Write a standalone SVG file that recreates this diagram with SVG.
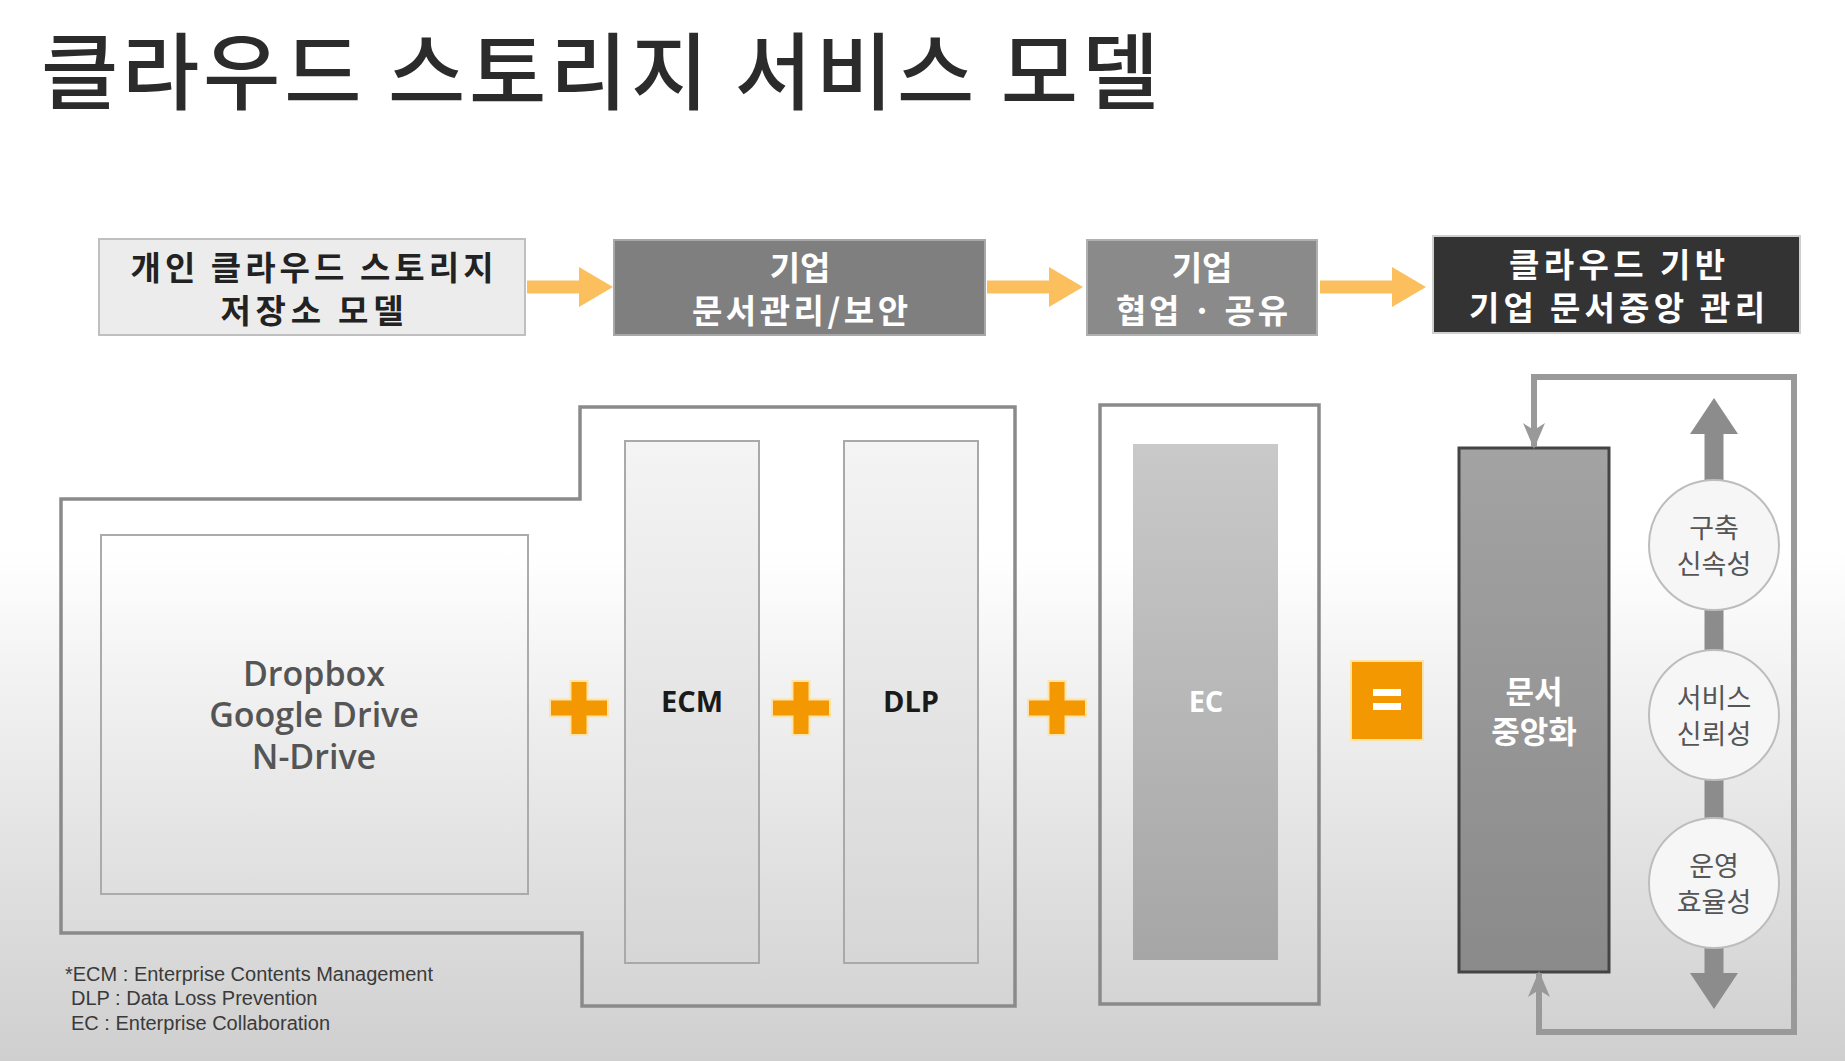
<svg xmlns="http://www.w3.org/2000/svg" width="1845" height="1061" viewBox="0 0 1845 1061">
<defs>
<linearGradient id="bg" x1="0" y1="0" x2="0" y2="1">
<stop offset="0" stop-color="#ffffff"/>
<stop offset="0.52" stop-color="#ffffff"/>
<stop offset="0.66" stop-color="#f0f0f0"/>
<stop offset="1" stop-color="#cfcfcf"/>
</linearGradient>
<linearGradient id="lightCol" x1="0" y1="0" x2="0" y2="1">
<stop offset="0" stop-color="#f4f4f4"/>
<stop offset="1" stop-color="#d6d6d6"/>
</linearGradient>
<linearGradient id="ecCol" x1="0" y1="0" x2="0" y2="1">
<stop offset="0" stop-color="#c9c9c9"/>
<stop offset="1" stop-color="#a6a6a6"/>
</linearGradient>
<linearGradient id="darkCol" x1="0" y1="0" x2="0" y2="1">
<stop offset="0" stop-color="#a3a3a3"/>
<stop offset="1" stop-color="#8a8a8a"/>
</linearGradient>
<marker id="orangeHead" markerUnits="userSpaceOnUse" markerWidth="34" markerHeight="40" refX="0" refY="20" orient="auto">
<path d="M0,0 L34,20 L0,40 Z" fill="#fbbf5e"/>
</marker>
<marker id="loopHead" markerUnits="userSpaceOnUse" markerWidth="26" markerHeight="26" refX="24" refY="13" orient="auto-start-reverse">
<path d="M0,2 L26,13 L0,24 L7,13 Z" fill="#999999"/>
</marker>
<marker id="bigHead" markerUnits="userSpaceOnUse" markerWidth="36" markerHeight="48" refX="1" refY="24" orient="auto-start-reverse">
<path d="M0,0 L36,24 L0,48 Z" fill="#8c8c8c"/>
</marker>
<path id="plus" d="M-8.5,-27 h17 v18.5 h20.5 v17 h-20.5 v18.5 h-17 v-18.5 h-20.5 v-17 h20.5 z"/>
</defs>
<style>
.ko{font-family:"Noto Sans CJK KR","Noto Sans",sans-serif;}
.boxtxt{font-size:33px;font-weight:700;text-anchor:middle;}
.en{font-family:"Open Sans","Liberation Sans",sans-serif;}
.col{stroke:#a9a9a9;stroke-width:2;}
.frame{fill:none;stroke:#8a8a8a;stroke-width:3.5;}
.op{fill:#f39800;stroke:#fde3a8;stroke-width:2;}
.circ{fill:#f6f6f6;stroke:#bdbdbd;stroke-width:2;}
.ctxt{font-size:27px;fill:#555555;text-anchor:middle;}
.note{font-family:"Liberation Sans",Arial,sans-serif;font-size:20px;fill:#3a3a3a;}
</style>
<rect x="0" y="0" width="1845" height="1061" fill="url(#bg)"/>

<g id="title">
<text class="ko" x="41" y="103" font-size="84" font-weight="500" fill="#2b2b2b" textLength="1118" lengthAdjust="spacing">클라우드 스토리지 서비스 모델</text>
</g>

<g id="stage1">
<rect x="99" y="239" width="426" height="96" fill="#ececec" stroke="#bfbfbf" stroke-width="2"/>
<text class="ko boxtxt" fill="#222222"><tspan x="312" y="280" textLength="363" lengthAdjust="spacing">개인 클라우드 스토리지</tspan><tspan x="312" y="323" textLength="183" lengthAdjust="spacing">저장소 모델</tspan></text>
</g>
<g id="stage2">
<rect x="614" y="240" width="371" height="95" fill="#7f7f7f" stroke="#a8a8a8" stroke-width="2"/>
<text class="ko boxtxt" fill="#ffffff"><tspan x="800" y="280">기업</tspan><tspan x="800" y="323" textLength="216" lengthAdjust="spacing">문서관리/보안</tspan></text>
</g>
<g id="stage3">
<rect x="1087" y="240" width="230" height="95" fill="#8a8a8a" stroke="#b0b0b0" stroke-width="2"/>
<text class="ko boxtxt" fill="#ffffff"><tspan x="1202" y="280">기업</tspan><tspan x="1202" y="323" textLength="172" lengthAdjust="spacing">협업 · 공유</tspan></text>
</g>
<g id="stage4">
<rect x="1433" y="236" width="367" height="97" fill="#333333" stroke="#cfcfcf" stroke-width="2"/>
<text class="ko boxtxt" fill="#ffffff"><tspan x="1617" y="277" textLength="216" lengthAdjust="spacing">클라우드 기반</tspan><tspan x="1617" y="320" textLength="296" lengthAdjust="spacing">기업 문서중앙 관리</tspan></text>
</g>

<g id="personal-frame">
<path class="frame" d="M61,499 H580 V407 H1015 V1006 H582 V933 H61 Z"/>
</g>
<g id="dropbox">
<rect x="101" y="535" width="427" height="359" fill="none" stroke="#ababab" stroke-width="2"/>
<text class="en" font-size="34" font-weight="600" fill="#555555" text-anchor="middle"><tspan x="314" y="686">Dropbox</tspan><tspan x="314" y="727">Google Drive</tspan><tspan x="314" y="769">N-Drive</tspan></text>
</g>
<g id="plus1"><use href="#plus" x="579" y="708" class="op"/></g>
<g id="ecm">
<rect class="col" x="625" y="441" width="134" height="522" fill="url(#lightCol)"/>
<text class="en" x="692" y="712" font-size="29" font-weight="700" fill="#1a1a1a" text-anchor="middle">ECM</text>
</g>
<g id="plus2"><use href="#plus" x="801" y="708" class="op"/></g>
<g id="dlp">
<rect class="col" x="844" y="441" width="134" height="522" fill="url(#lightCol)"/>
<text class="en" x="911" y="712" font-size="29" font-weight="700" fill="#1a1a1a" text-anchor="middle">DLP</text>
</g>
<g id="plus3"><use href="#plus" x="1057" y="708" class="op"/></g>
<g id="ec-frame">
<rect class="frame" x="1100" y="405" width="219" height="599"/>
</g>
<g id="ec">
<rect x="1133" y="444" width="145" height="516" fill="url(#ecCol)"/>
<text class="en" x="1206" y="712" font-size="29" font-weight="700" fill="#ffffff" text-anchor="middle">EC</text>
</g>
<g id="equals">
<rect x="1351" y="661" width="72" height="79" fill="#f39800" stroke="#fde3a8" stroke-width="2"/>
<rect x="1373" y="689" width="28" height="7" fill="#ffffff"/>
<rect x="1373" y="703" width="28" height="7" fill="#ffffff"/>
</g>
<g id="centralization">
<rect x="1459" y="448" width="150" height="524" fill="url(#darkCol)" stroke="#444444" stroke-width="3"/>
<text class="ko" font-size="31" font-weight="700" fill="#ffffff" text-anchor="middle"><tspan x="1534" y="703">문서</tspan><tspan x="1534" y="743">중앙화</tspan></text>
</g>

<g id="connectors">
<line x1="527" y1="287" x2="579" y2="287" stroke="#fbbf5e" stroke-width="13" marker-end="url(#orangeHead)"/>
<line x1="987" y1="287" x2="1049" y2="287" stroke="#fbbf5e" stroke-width="13" marker-end="url(#orangeHead)"/>
<line x1="1320" y1="287" x2="1392" y2="287" stroke="#fbbf5e" stroke-width="13" marker-end="url(#orangeHead)"/>
<path d="M1534,447 V377 H1794 V1032 H1539 V973" fill="none" stroke="#999999" stroke-width="6" marker-start="url(#loopHead)" marker-end="url(#loopHead)"/>
<line x1="1714" y1="433" x2="1714" y2="974" stroke="#8c8c8c" stroke-width="19" marker-start="url(#bigHead)" marker-end="url(#bigHead)"/>
</g>

<g id="speed">
<circle class="circ" cx="1714" cy="545" r="65"/>
<text class="ko ctxt"><tspan x="1714" y="538">구축</tspan><tspan x="1714" y="574">신속성</tspan></text>
</g>
<g id="reliability">
<circle class="circ" cx="1714" cy="715" r="65"/>
<text class="ko ctxt"><tspan x="1714" y="708">서비스</tspan><tspan x="1714" y="744">신뢰성</tspan></text>
</g>
<g id="efficiency">
<circle class="circ" cx="1714" cy="883" r="65"/>
<text class="ko ctxt"><tspan x="1714" y="876">운영</tspan><tspan x="1714" y="912">효율성</tspan></text>
</g>

<g id="footnote">
<text class="note"><tspan x="65" y="981">*ECM : Enterprise Contents Management</tspan><tspan x="71" y="1005">DLP : Data Loss Prevention</tspan><tspan x="71" y="1030">EC : Enterprise Collaboration</tspan></text>
</g>
</svg>
